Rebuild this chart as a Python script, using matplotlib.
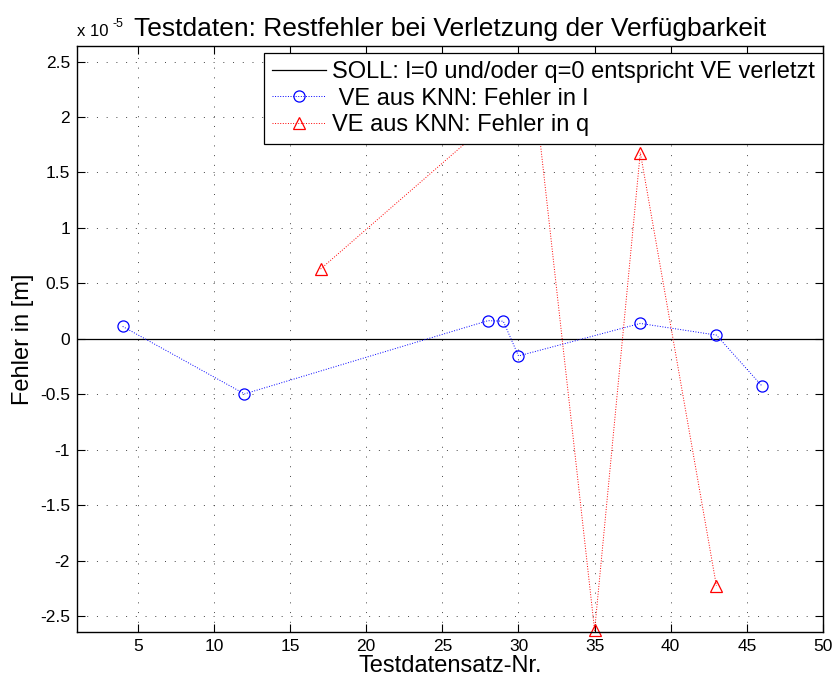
import numpy as np
import matplotlib
matplotlib.use("Agg")
import matplotlib.pyplot as plt
from matplotlib.ticker import FuncFormatter

plt.rcParams['font.family'] = ['Liberation Sans', 'DejaVu Sans']

# Fehler in l (blau) und in q (rot), Einheit: m
nr_l = [4, 12, 28, 29, 30, 38, 43, 46]
fehler_l = [0.113e-5, -0.495e-5, 0.165e-5, 0.16e-5, -0.153e-5, 0.14e-5, 0.035e-5, -0.425e-5]
nr_q = [17, 31, 35, 38, 43]
fehler_q = [0.63e-5, 2.3e-5, -2.625e-5, 1.68e-5, -2.225e-5]
soll_x = [1, 50]
soll_y = [0, 0]

fig = plt.figure(figsize=(8.34, 6.81), dpi=100)
ax = fig.add_axes([0.0923, 0.072, 0.8945, 0.8605])

ax.plot(soll_x, soll_y, color='black', linewidth=0.9,
        label='SOLL: l=0 und/oder q=0 entspricht VE verletzt')
ax.plot(nr_l, fehler_l, color='blue', linestyle=':', linewidth=0.7,
        marker='o', markersize=8, markerfacecolor='none', markeredgewidth=0.9,
        label=' VE aus KNN: Fehler in l')
ax.plot(nr_q, fehler_q, color='red', linestyle=':', linewidth=0.7,
        marker='^', markersize=9, markerfacecolor='none', markeredgewidth=0.9,
        clip_on=False, label='VE aus KNN: Fehler in q')

ax.set_xlim(1, 50)
ax.set_ylim(-2.64e-5, 2.64e-5)
ax.set_xticks(np.arange(5, 51, 5))
ax.set_yticks(np.arange(-2.5, 2.51, 0.5) * 1e-5)
ax.yaxis.set_major_formatter(FuncFormatter(lambda v, p: ('%g' % round(v * 1e5, 2))))
ax.tick_params(direction='in', top=True, right=True, length=6, width=0.8,
               labelsize=12.5, pad=5)
ax.grid(True, linestyle=(0, (1, 9)), color='#444444', linewidth=0.7)
for s in ax.spines.values():
    s.set_linewidth(1.0)

# Exponent der y-Achse
ax.text(0.0, 1.012, 'x 10', transform=ax.transAxes, fontsize=12,
        ha='left', va='bottom')
ax.text(0.047, 1.028, '-5', transform=ax.transAxes, fontsize=9,
        ha='left', va='bottom')
ax.set_title('Testdaten: Restfehler bei Verletzung der Verfügbarkeit',
             fontsize=19, pad=7)
ax.set_xlabel('Testdatensatz-Nr.', fontsize=17, labelpad=1)
ax.set_ylabel('Fehler in [m]', fontsize=17, labelpad=4)

leg = ax.legend(loc='upper right', bbox_to_anchor=(1.0, 0.988), fontsize=17,
                handlelength=2.3, handletextpad=0.25, borderpad=0.33,
                labelspacing=0.2, borderaxespad=0, fancybox=False,
                framealpha=1, edgecolor='black')
leg.get_frame().set_linewidth(0.9)

fig.savefig('out.png', dpi=100)
